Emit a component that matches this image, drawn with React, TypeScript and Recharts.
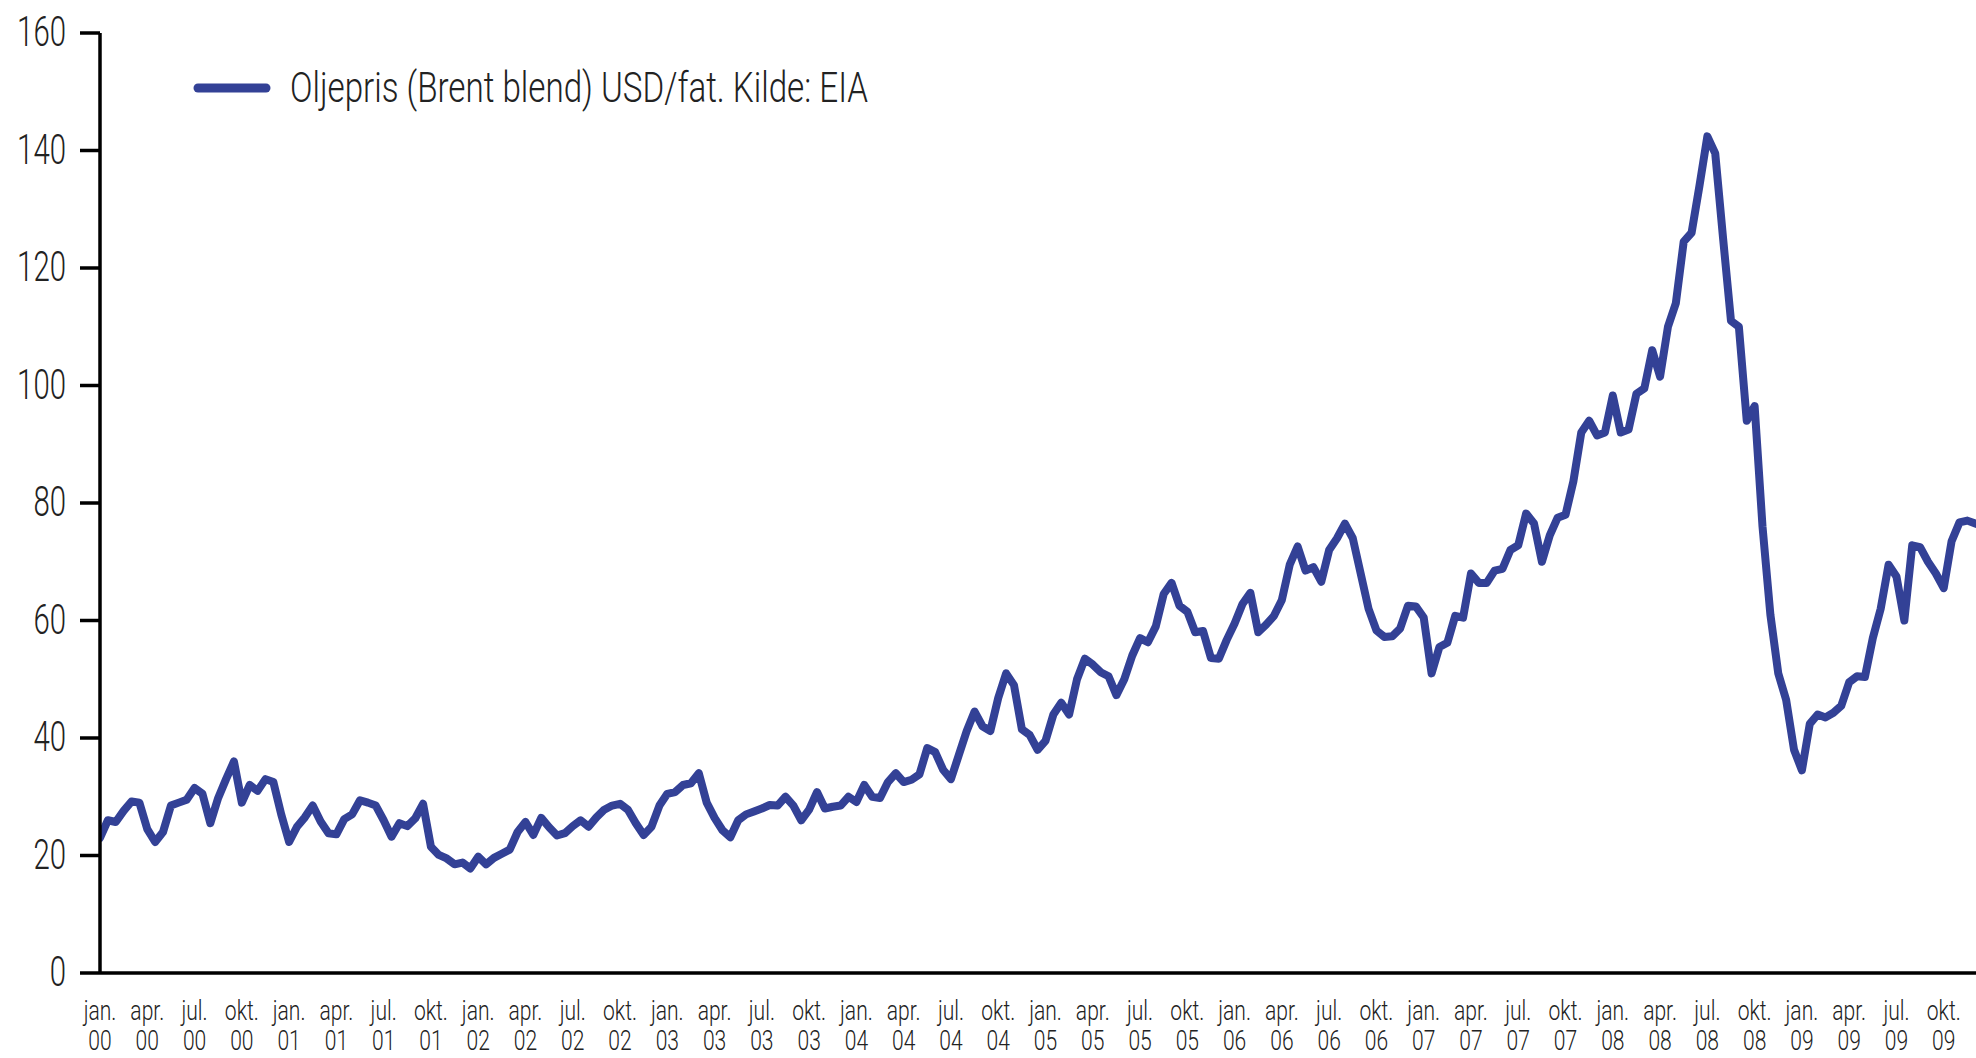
import React from 'react';
import { LineChart, Line, XAxis, YAxis, Legend } from 'recharts';

// Brent weekly-ish prices, 24 samples per year (USD/barrel)
const brent2000 = [23, 26, 25.7, 27.6, 29.2, 29, 24.5, 22.3, 24, 28.5, 29, 29.5, 31.5, 30.5, 25.5, 29.8, 33, 36, 29, 32, 31, 33, 32.5, 27];
const brent2001 = [22.3, 24.9, 26.5, 28.5, 25.8, 23.8, 23.6, 26.2, 27, 29.4, 29, 28.5, 26, 23.2, 25.5, 25, 26.3, 28.8, 21.5, 20.1, 19.5, 18.5, 18.8, 17.8];
const brent2002 = [19.8, 18.5, 19.6, 20.3, 21, 24, 25.7, 23.5, 26.4, 24.8, 23.4, 23.8, 25, 26, 24.9, 26.5, 27.8, 28.5, 28.8, 27.8, 25.5, 23.5, 24.9, 28.5];
const brent2003 = [30.5, 30.8, 32, 32.3, 34, 29, 26.4, 24.3, 23.1, 26, 27, 27.5, 28, 28.6, 28.5, 30, 28.5, 26, 27.8, 30.8, 28, 28.3, 28.5, 30];
const brent2004 = [29.1, 32, 30, 29.8, 32.5, 34, 32.5, 32.9, 33.8, 38.3, 37.6, 34.6, 33, 37.1, 41.2, 44.5, 42, 41.2, 46.8, 51, 49, 41.5, 40.5, 38];
const brent2005 = [39.5, 44, 46, 44, 50, 53.5, 52.5, 51.2, 50.5, 47.3, 50, 54, 57, 56.3, 59, 64.5, 66.4, 62.5, 61.5, 58, 58.2, 53.6, 53.5, 56.7];
const brent2006 = [59.5, 62.8, 64.7, 58, 59.3, 60.8, 63.5, 69.5, 72.6, 68.5, 69.1, 66.6, 72, 74, 76.5, 74, 68, 62, 58.3, 57.2, 57.3, 58.6, 62.5, 62.4];
const brent2007 = [60.5, 51, 55.5, 56.2, 60.8, 60.5, 68, 66.4, 66.4, 68.5, 68.8, 72, 72.8, 78.2, 76.5, 70, 74.5, 77.5, 78, 83.7, 92, 94, 91.5, 92];
const brent2008 = [98.3, 92, 92.5, 98.6, 99.5, 106, 101.5, 110, 114, 124.5, 126, 134, 142.4, 139.5, 125, 111, 110, 94, 96.5, 76, 61, 51, 46.5, 38];
const brent2009 = [34.5, 42.4, 44, 43.5, 44.3, 45.5, 49.5, 50.5, 50.4, 57, 62, 69.5, 67.5, 60, 72.8, 72.5, 70, 68, 65.5, 73.5, 76.7, 77, 76.5, 76];

const yearlySeries = [brent2000, brent2001, brent2002, brent2003, brent2004, brent2005, brent2006, brent2007, brent2008, brent2009];
const samplesPerYear = 24;
const samplesPerQuarter = 6;

const quarterMonths = ['jan.', 'apr.', 'jul.', 'okt.'];
const yearLabels = ['00', '01', '02', '03', '04', '05', '06', '07', '08', '09'];
const yTicks = [0, 20, 40, 60, 80, 100, 120, 140, 160];
const seriesName = 'Oljepris (Brent blend) USD/fat. Kilde: EIA';

const data = yearlySeries.flatMap((arr, y) =>
  arr.map((v, k) => ({ i: y * samplesPerYear + k, price: v }))
);
const xTicks = yearLabels.flatMap((_, y) => quarterMonths.map((__, q) => (y * 4 + q) * samplesPerQuarter));

const LINE_COLOR = '#334196';
const FONT = 'Roboto, "Liberation Sans", sans-serif';

const XTick = (props: any) => {
  const { x, payload } = props;
  const q = Math.round(payload.value / samplesPerQuarter);
  const m = quarterMonths[q % 4];
  const yr = yearLabels[Math.floor(q / 4)];
  return (
    <g transform={`translate(${x},${973})`}>
      <text transform="translate(0,47) scale(0.78,1)" textAnchor="middle" fontSize={27} fontFamily={FONT} fontWeight={300} fill="#222">{m}</text>
      <text transform="translate(0,77) scale(0.78,1)" textAnchor="middle" fontSize={27} fontFamily={FONT} fontWeight={300} fill="#222">{yr}</text>
    </g>
  );
};

const YTick = (props: any) => {
  const { y, payload } = props;
  return (
    <text transform={`translate(66,${y + 13}) scale(0.7,1)`} textAnchor="end" fontSize={42} fontFamily={FONT} fontWeight={300} fill="#222">
      {payload.value}
    </text>
  );
};

const LegendContent = () => (
  <svg width={800} height={70} style={{ display: 'block' }}>
    <line x1={22} y1={33} x2={90} y2={33} stroke={LINE_COLOR} strokeWidth={9} strokeLinecap="round" />
    <text transform="translate(114,47) scale(0.79,1)" fontSize={42} fontFamily={FONT} fontWeight={300} fill="#222">{seriesName}</text>
  </svg>
);

export default function App() {
  return (
    <div style={{ position: 'fixed', left: 0, top: 0, width: 1976, height: 1058, overflow: 'hidden', background: '#fff' }}>
      <LineChart width={1991} height={1058} data={data} margin={{ top: 33, right: 0, bottom: 0, left: 0 }}>
        <XAxis
          dataKey="i"
          type="number"
          domain={[0, 240]}
          ticks={xTicks}
          interval={0}
          allowDataOverflow
          height={85}
          tickLine={false}
          axisLine={{ stroke: '#000', strokeWidth: 3.5 }}
          tick={<XTick />}
        />
        <YAxis
          type="number"
          domain={[0, 160]}
          ticks={yTicks}
          interval={0}
          width={100}
          tickSize={20}
          tickLine={{ stroke: '#000', strokeWidth: 3.5 }}
          axisLine={{ stroke: '#000', strokeWidth: 3.5 }}
          tick={<YTick />}
        />
        <Legend
          layout="horizontal"
          align="center"
          verticalAlign="middle"
          content={<LegendContent />}
          wrapperStyle={{ left: 176, top: 55, width: 800, height: 70 }}
        />
        <Line
          type="linear"
          dataKey="price"
          name={seriesName}
          stroke={LINE_COLOR}
          strokeWidth={8}
          strokeLinejoin="round"
          strokeLinecap="round"
          dot={false}
          activeDot={false}
          isAnimationActive={false}
        />
      </LineChart>
    </div>
  );
}
